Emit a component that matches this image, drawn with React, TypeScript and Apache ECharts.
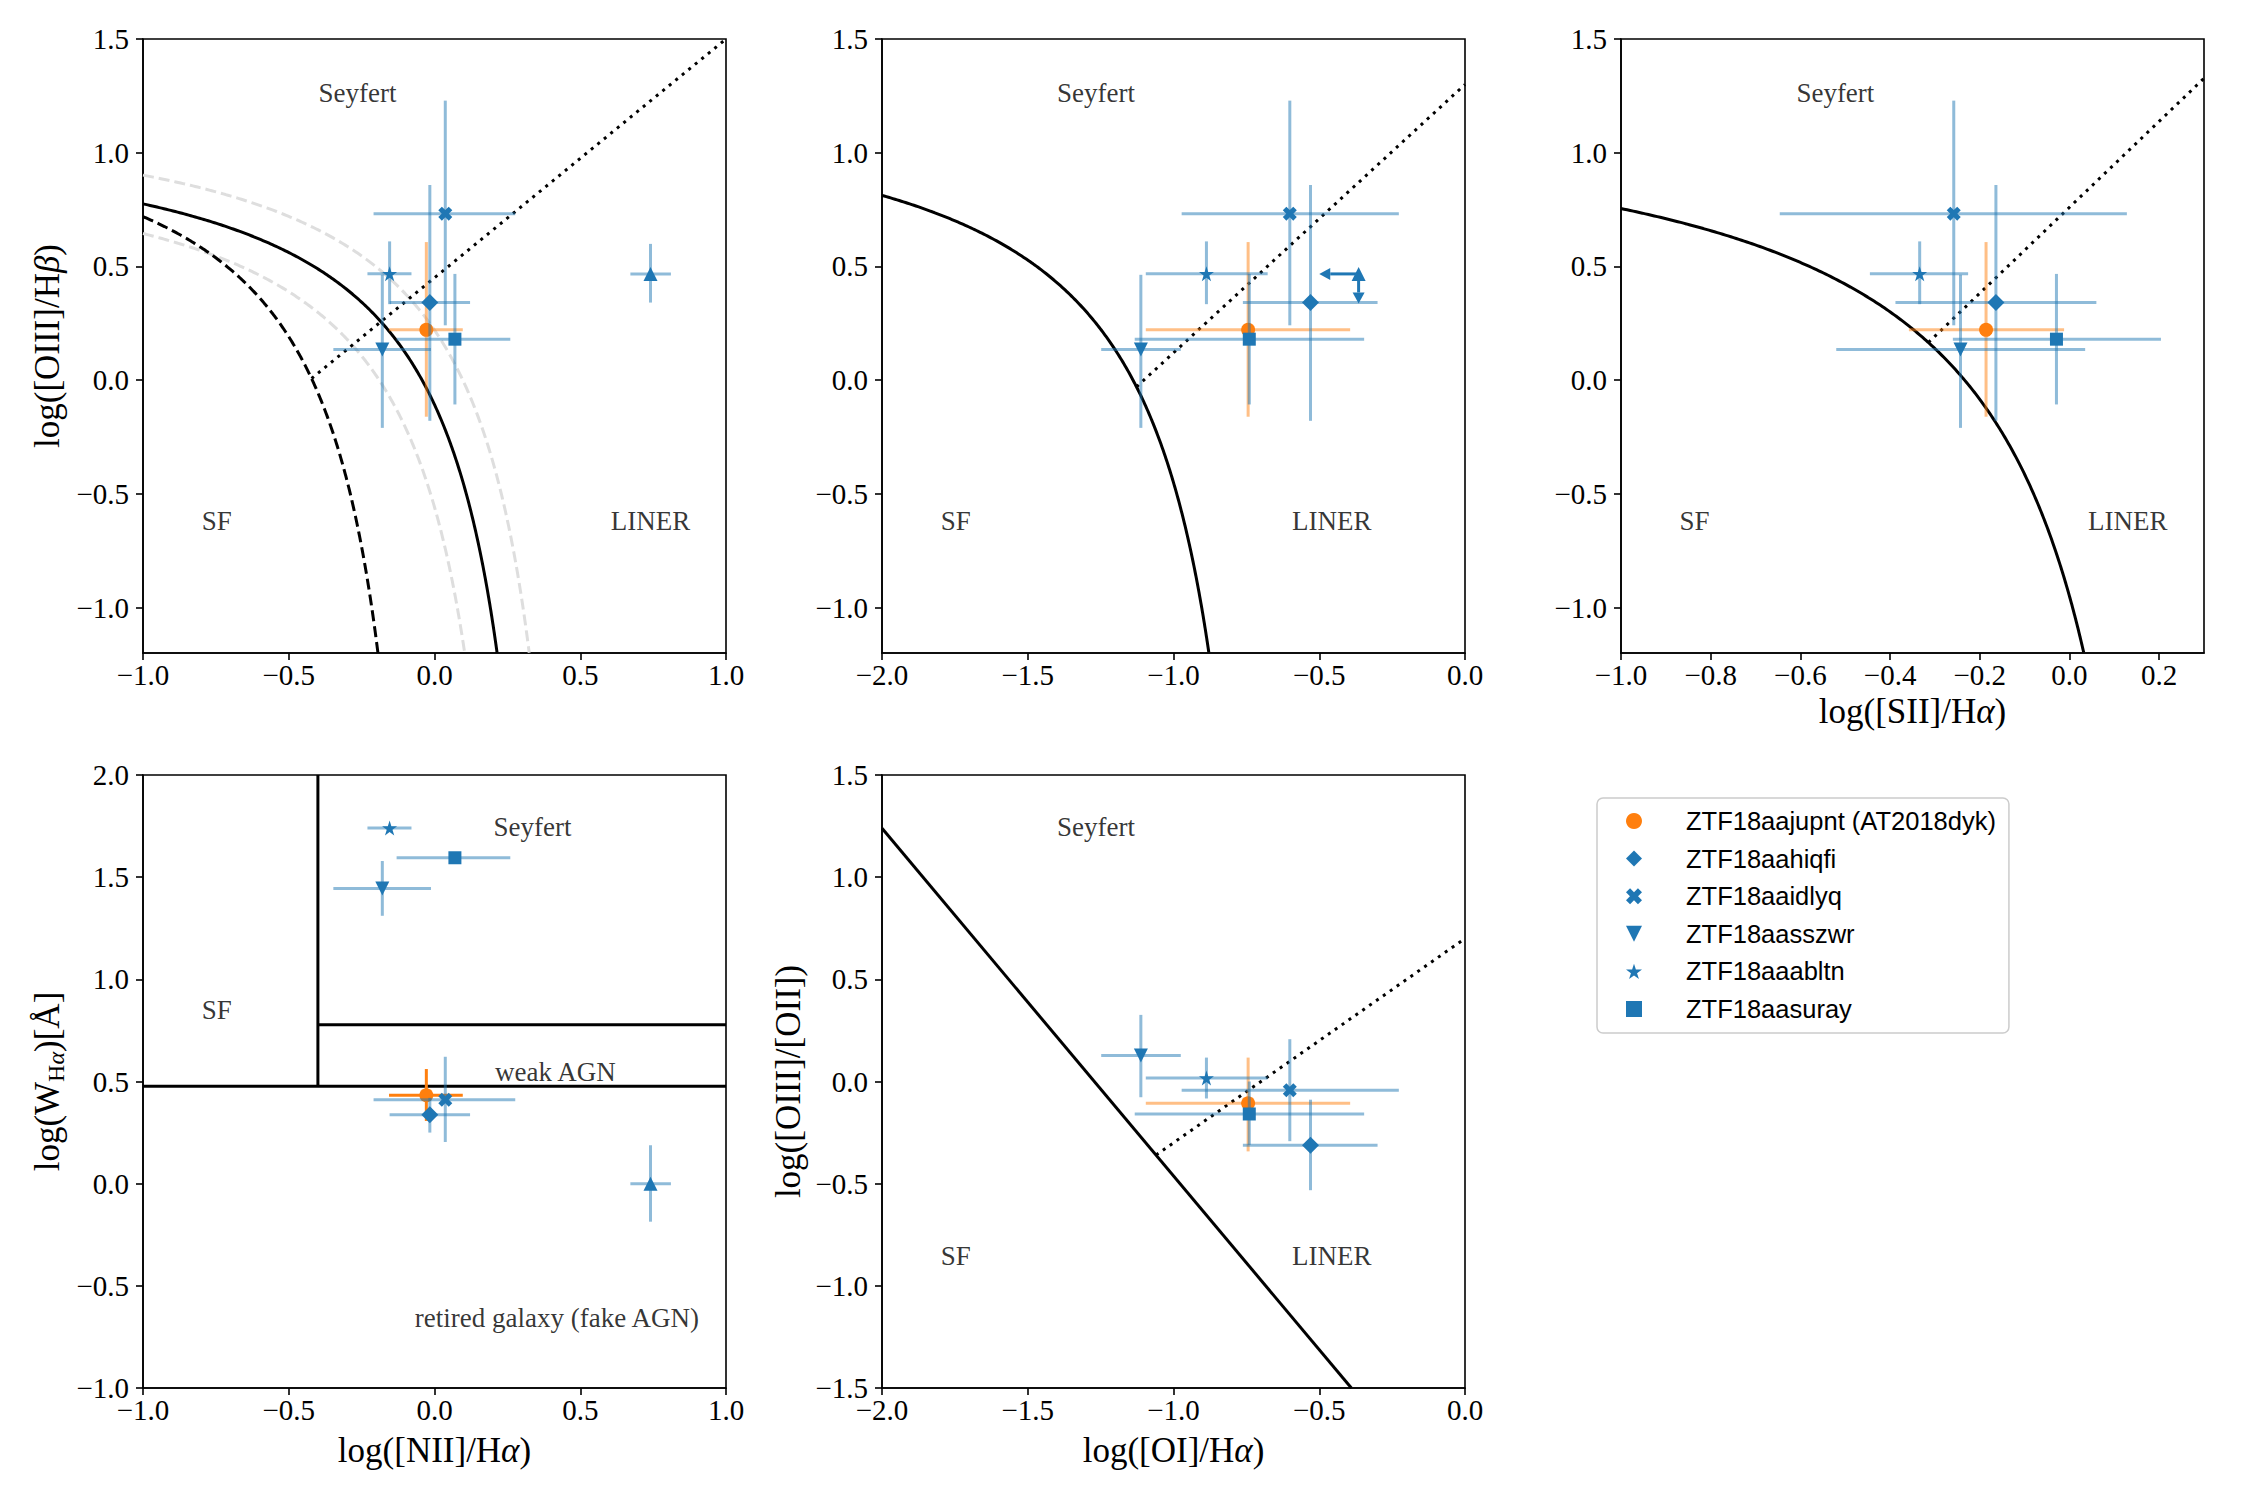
import React, { useEffect, useRef } from 'react';
import * as echarts from 'echarts';

// ---- sources ----
const OBJECTS = [
  'ZTF18aajupnt (AT2018dyk)',
  'ZTF18aahiqfi',
  'ZTF18aaidlyq',
  'ZTF18aasszwr',
  'ZTF18aaabltn',
  'ZTF18aasuray',
];
// index 6 is an extra source (up-triangle) that is not listed in the legend
const EXTRA_NAME = 'extra source';

// ---- line ratios (value, lower end, upper end of the error bar) ----
const NII_HA = [-0.028, -0.016, 0.037, -0.179, -0.154, 0.07, 0.741];
const NII_HA_LO = [-0.156, -0.154, -0.209, -0.347, -0.23, -0.13, 0.672];
const NII_HA_HI = [0.097, 0.122, 0.277, -0.012, -0.079, 0.26, 0.811];

const OIII_HB = [0.221, 0.341, 0.732, 0.135, 0.468, 0.18, 0.467];
const OIII_HB_LO = [-0.161, -0.179, 0.241, -0.21, 0.334, -0.107, 0.341];
const OIII_HB_HI = [0.607, 0.858, 1.229, 0.463, 0.61, 0.467, 0.599];

const OI_HA = [-0.744, -0.53, -0.601, -1.112, -0.887, -0.74];
const OI_HA_LO = [-1.095, -0.762, -0.972, -1.248, -1.095, -1.133];
const OI_HA_HI = [-0.394, -0.3, -0.227, -0.975, -0.677, -0.346];
// upper limits of the extra source in the [OI] diagram: [x, y] and arrow tips [x, y]
const OI_UPPER_LIMIT = [-0.365, 0.467];
const OI_LIMIT_TIPS = [-0.5, 0.337];

const SII_HA = [-0.186, -0.164, -0.258, -0.243, -0.334, -0.029];
const SII_HA_LO = [-0.358, -0.388, -0.646, -0.52, -0.445, -0.26];
const SII_HA_HI = [-0.012, 0.06, 0.128, 0.035, -0.226, 0.204];

const W_HA = [0.433, 0.337, 0.411, 1.445, 1.741, 1.595, 0.0];
const W_HA_LO = [0.307, 0.25, 0.204, 1.311, 1.741, 1.595, -0.186];
const W_HA_HI = [0.561, 0.42, 0.621, 1.579, 1.741, 1.595, 0.188];

const OIII_OII = [-0.107, -0.312, -0.043, 0.127, 0.017, -0.159];
const OIII_OII_LO = [-0.342, -0.532, -0.292, -0.077, -0.083, -0.31];
const OIII_OII_HI = [0.117, -0.089, 0.207, 0.326, 0.117, 0.0];

// ---- demarcation lines: hyperbolae y = a/(x-b)+c, straight lines y = m x + q ----
const KEWLEY01_NII = [0.61, 0.47, 1.19];
const KEWLEY01_NII_SPREAD = 0.1;
const KAUFFMANN03_NII = [0.61, 0.05, 1.3];
const KEWLEY06_NII_LINER = [1.05, 0.45];
const KEWLEY01_OI = [0.73, -0.59, 1.33];
const KEWLEY06_OI_LINER = [1.18, 1.3];
const KEWLEY01_SII = [0.72, 0.32, 1.3];
const KEWLEY06_SII_LINER = [1.89, 0.76];
const KEWLEY06_OIII_OII_SF = [-1.701, -2.163];
const KEWLEY06_OIII_OII_LINER = [1.0, 0.7];
// WHAN diagram boundaries
const WHAN_NII_CUT = -0.4;
const WHAN_W_RETIRED = Math.log10(3);
const WHAN_W_STRONG = Math.log10(6);

// ---- tick positions ----
const TICKS_NII = [-1, -0.5, 0, 0.5, 1];
const TICKS_OI = [-2, -1.5, -1, -0.5, 0];
const TICKS_SII = [-1, -0.8, -0.6, -0.4, -0.2, 0, 0.2];
const TICKS_OIII_HB = [-1, -0.5, 0, 0.5, 1, 1.5];
const TICKS_W = [-1, -0.5, 0, 0.5, 1, 1.5, 2];
const TICKS_OIII_OII = [-1.5, -1, -0.5, 0, 0.5, 1, 1.5];

// ---- region annotations [x, y, text] ----
const LABELS_NII = [[-0.264, 1.262, 'Seyfert'], [-0.747, -0.62, 'SF'], [0.741, -0.62, 'LINER']];
const LABELS_OI = [[-1.266, 1.262, 'Seyfert'], [-1.747, -0.62, 'SF'], [-0.457, -0.62, 'LINER']];
const LABELS_SII = [[-0.522, 1.262, 'Seyfert'], [-0.836, -0.62, 'SF'], [0.13, -0.62, 'LINER']];
const LABELS_WHAN = [
  [0.336, 1.745, 'Seyfert'],
  [-0.747, 0.85, 'SF'],
  [0.415, 0.545, 'weak AGN'],
  [0.42, -0.655, 'retired galaxy (fake AGN)'],
];
const LABELS_OIII_OII = [[-1.266, 1.247, 'Seyfert'], [-1.747, -0.852, 'SF'], [-0.457, -0.852, 'LINER']];

// ---- styling ----
const SERIF = '"Liberation Serif", "Times New Roman", serif';
const SANS = '"Liberation Sans", Arial, sans-serif';
const BLUE = '#1f77b4';
const ORANGE = '#ff7f0e';
const BLUE_BAR = 'rgba(31,119,180,0.5)';
const ORANGE_BAR = 'rgba(255,127,14,0.5)';

const X_PATH = (() => {
  const a = 0.17;
  const L = 0.5;
  const pts = [[a, -L], [a, -a], [L, -a], [L, a], [a, a], [a, L], [-a, L], [-a, a], [-L, a], [-L, -a], [-a, -a], [-a, -L]];
  const r = Math.SQRT1_2;
  const rot = pts.map(([x, y]) => [((x - y) * r).toFixed(4), ((x + y) * r).toFixed(4)]);
  return 'path://M' + rot.map((p) => p.join(',')).join(' L') + ' Z';
})();
const STAR_PATH =
  'path://M0,-1 L0.2245,-0.309 L0.951,-0.309 L0.3633,0.118 L0.5878,0.809 L0,0.382 L-0.5878,0.809 L-0.3633,0.118 L-0.951,-0.309 L-0.2245,-0.309 Z';
const TRI_DOWN = 'path://M-1,-1 L1,-1 L0,1 Z';
const TRI_UP = 'path://M0,-1 L1,1 L-1,1 Z';

const SYMBOLS = ['circle', 'diamond', X_PATH, TRI_DOWN, STAR_PATH, 'rect', TRI_UP];
const SIZES = [14, 17, 14, 14, 15, 13, 14];

const GRIDS = [
  { left: 143, top: 39, width: 583, height: 614 },
  { left: 882, top: 39, width: 583, height: 614 },
  { left: 1621, top: 39, width: 583, height: 614 },
  { left: 143, top: 775, width: 583, height: 613 },
  { left: 882, top: 775, width: 583, height: 613 },
];

const fmtTick = (v: number) => (Math.abs(v) < 1e-9 ? 0 : v).toFixed(1).replace('-', '\u2212');

const NAME_FS = 35;
const SUB_FS = 24;
const nameStyle = {
  fontFamily: SERIF,
  fontSize: NAME_FS,
  color: '#000',
  lineHeight: 40,
  rich: {
    i: { fontFamily: SERIF, fontSize: NAME_FS, fontStyle: 'italic', lineHeight: 40, color: '#000' },
    s: { fontFamily: SERIF, fontSize: SUB_FS, lineHeight: 24, padding: [17, 0, 0, 0], color: '#000' },
    si: { fontFamily: SERIF, fontSize: SUB_FS, fontStyle: 'italic', lineHeight: 24, padding: [17, 0, 0, 0], color: '#000' },
  },
};

function makeAxis(gridIndex: number, min: number, max: number, ticks: number[], isY: boolean, name?: string, nameGap = 40) {
  return {
    type: 'value',
    gridIndex,
    min,
    max,
    axisLine: { show: true, onZero: false, lineStyle: { color: '#000', width: 1.6 } },
    axisTick: { show: true, inside: false, length: 7, lineStyle: { color: '#000', width: 1.6 }, customValues: ticks },
    axisLabel: {
      show: true,
      customValues: ticks,
      formatter: fmtTick,
      color: '#000',
      fontFamily: SERIF,
      fontSize: 29,
      margin: isY ? 14 : 7,
    },
    splitLine: { show: false },
    name: name || '',
    nameLocation: 'middle',
    nameGap,
    nameTextStyle: nameStyle,
  };
}

// curve helpers
function hyperbola([a, b, c]: number[], x0: number, yFloor: number, n = 300) {
  const x1 = b + a / (yFloor - c);
  const pts: number[][] = [];
  for (let k = 0; k <= n; k++) {
    const t = k / n;
    const x = x0 + (x1 - x0) * (1 - (1 - t) * (1 - t));
    pts.push([x, a / (x - b) + c]);
  }
  return pts;
}
function straight([m, q]: number[], x0: number, x1: number) {
  return [[x0, m * x0 + q], [x1, m * x1 + q]];
}
function meet(f: (x: number) => number, g: (x: number) => number, lo: number, hi: number) {
  let a = lo;
  let b = hi;
  const d = (x: number) => f(x) - g(x);
  for (let k = 0; k < 80; k++) {
    const m = (a + b) / 2;
    if (Math.sign(d(m)) === Math.sign(d(a))) a = m;
    else b = m;
  }
  return (a + b) / 2;
}
const hyp = ([a, b, c]: number[]) => (x: number) => a / (x - b) + c;
const lin = ([m, q]: number[]) => (x: number) => m * x + q;

function lineSeries(gi: number, data: number[][], color: string, type: any, width = 3) {
  return {
    type: 'line',
    xAxisIndex: gi,
    yAxisIndex: gi,
    data,
    symbol: 'none',
    showSymbol: false,
    silent: true,
    z: 1,
    clip: true,
    lineStyle: { color, width, type, cap: 'butt' },
  };
}

function errorSeries(gi: number, idx: number, item: number[], solidOrange = false) {
  const color = idx === 0 ? (solidOrange ? ORANGE : ORANGE_BAR) : BLUE_BAR;
  return {
    type: 'custom',
    xAxisIndex: gi,
    yAxisIndex: gi,
    silent: true,
    z: 10 + 2 * idx,
    data: [item],
    renderItem: (params: any, api: any) => {
      const x = api.value(0);
      const y = api.value(1);
      const a = api.coord([api.value(2), y]);
      const b = api.coord([api.value(3), y]);
      const c = api.coord([x, api.value(4)]);
      const d = api.coord([x, api.value(5)]);
      const style = { stroke: color, lineWidth: 3, fill: 'none' };
      return {
        type: 'group',
        children: [
          { type: 'line', shape: { x1: a[0], y1: a[1], x2: b[0], y2: b[1] }, style },
          { type: 'line', shape: { x1: c[0], y1: c[1], x2: d[0], y2: d[1] }, style },
        ],
      };
    },
  };
}

function markerSeries(gi: number, idx: number, x: number, y: number) {
  return {
    type: 'scatter',
    name: idx < OBJECTS.length ? OBJECTS[idx] : EXTRA_NAME,
    xAxisIndex: gi,
    yAxisIndex: gi,
    data: [[x, y]],
    symbol: SYMBOLS[idx],
    symbolSize: SIZES[idx],
    itemStyle: { color: idx === 0 ? ORANGE : BLUE, opacity: 1 },
    silent: true,
    z: 11 + 2 * idx,
  };
}

function pointSeries(
  gi: number,
  xs: number[], xlo: number[], xhi: number[],
  ys: number[], ylo: number[], yhi: number[],
  solidOrange = false,
) {
  const out: any[] = [];
  const n = Math.min(xs.length, ys.length);
  for (let i = 0; i < n; i++) {
    out.push(errorSeries(gi, i, [xs[i], ys[i], xlo[i], xhi[i], ylo[i], yhi[i]], solidOrange));
    out.push(markerSeries(gi, i, xs[i], ys[i]));
  }
  return out;
}

function labelSeries(gi: number, labels: any[]) {
  return {
    type: 'scatter',
    xAxisIndex: gi,
    yAxisIndex: gi,
    silent: true,
    z: 30,
    symbolSize: 1,
    itemStyle: { color: 'rgba(0,0,0,0)' },
    data: labels.map(([x, y, t]) => ({ value: [x, y], name: t })),
    label: {
      show: true,
      position: 'inside',
      formatter: '{b}',
      fontFamily: SERIF,
      fontSize: 27,
      color: '#000',
    },
  };
}

function limitArrows(gi: number) {
  return {
    type: 'custom',
    xAxisIndex: gi,
    yAxisIndex: gi,
    silent: true,
    z: 24,
    data: [[OI_UPPER_LIMIT[0], OI_UPPER_LIMIT[1], OI_LIMIT_TIPS[0], OI_LIMIT_TIPS[1]]],
    renderItem: (params: any, api: any) => {
      const p = api.coord([api.value(0), api.value(1)]);
      const l = api.coord([api.value(2), api.value(1)]);
      const d = api.coord([api.value(0), api.value(3)]);
      const len = 11;
      const hw = 6;
      const style = { stroke: BLUE, lineWidth: 3, fill: 'none' };
      return {
        type: 'group',
        children: [
          { type: 'line', shape: { x1: p[0], y1: p[1], x2: l[0] + len, y2: l[1] }, style },
          { type: 'line', shape: { x1: p[0], y1: p[1], x2: d[0], y2: d[1] - len }, style },
          { type: 'polygon', shape: { points: [[l[0], l[1]], [l[0] + len, l[1] - hw], [l[0] + len, l[1] + hw]] }, style: { fill: BLUE } },
          { type: 'polygon', shape: { points: [[d[0], d[1]], [d[0] - hw, d[1] - len], [d[0] + hw, d[1] - len]] }, style: { fill: BLUE } },
        ],
      };
    },
  };
}

function buildOption() {
  const series: any[] = [];

  // --- [NII] BPT ---
  const kauffX = meet(hyp(KAUFFMANN03_NII), lin(KEWLEY06_NII_LINER), -0.9, 0.0);
  const [ka, kb, kc] = KEWLEY01_NII;
  const s = KEWLEY01_NII_SPREAD;
  series.push(lineSeries(0, hyperbola([ka, kb + s, kc + s], -1, -1.2), '#dedede', [11, 5]));
  series.push(lineSeries(0, hyperbola([ka, kb - s, kc - s], -1, -1.2), '#dedede', [11, 5]));
  series.push(lineSeries(0, hyperbola(KEWLEY01_NII, -1, -1.2), '#000', 'solid'));
  series.push(lineSeries(0, hyperbola(KAUFFMANN03_NII, -1, -1.2), '#000', [11, 5]));
  series.push(lineSeries(0, straight(KEWLEY06_NII_LINER, kauffX, 1.0), '#000', [3, 5.4]));
  series.push(...pointSeries(0, NII_HA, NII_HA_LO, NII_HA_HI, OIII_HB, OIII_HB_LO, OIII_HB_HI));
  series.push(labelSeries(0, LABELS_NII));

  // --- [OI] BPT ---
  const oiX = meet(hyp(KEWLEY01_OI), lin(KEWLEY06_OI_LINER), -1.5, -0.8);
  series.push(lineSeries(1, hyperbola(KEWLEY01_OI, -2, -1.2), '#000', 'solid'));
  series.push(lineSeries(1, straight(KEWLEY06_OI_LINER, oiX, 0), '#000', [3, 5.4]));
  series.push(...pointSeries(1, OI_HA, OI_HA_LO, OI_HA_HI, OIII_HB, OIII_HB_LO, OIII_HB_HI));
  series.push(limitArrows(1));
  series.push(markerSeries(1, 6, OI_UPPER_LIMIT[0], OI_UPPER_LIMIT[1]));
  series.push(labelSeries(1, LABELS_OI));

  // --- [SII] BPT ---
  const siiX = meet(hyp(KEWLEY01_SII), lin(KEWLEY06_SII_LINER), -0.8, 0.1);
  series.push(lineSeries(2, hyperbola(KEWLEY01_SII, -1, -1.2), '#000', 'solid'));
  series.push(lineSeries(2, straight(KEWLEY06_SII_LINER, siiX, 0.3), '#000', [3, 5.4]));
  series.push(...pointSeries(2, SII_HA, SII_HA_LO, SII_HA_HI, OIII_HB, OIII_HB_LO, OIII_HB_HI));
  series.push(labelSeries(2, LABELS_SII));

  // --- WHAN ---
  series.push(lineSeries(3, [[WHAN_NII_CUT, WHAN_W_RETIRED], [WHAN_NII_CUT, 2]], '#000', 'solid'));
  series.push(lineSeries(3, [[-1, WHAN_W_RETIRED], [1, WHAN_W_RETIRED]], '#000', 'solid'));
  series.push(lineSeries(3, [[WHAN_NII_CUT, WHAN_W_STRONG], [1, WHAN_W_STRONG]], '#000', 'solid'));
  series.push(...pointSeries(3, NII_HA, NII_HA_LO, NII_HA_HI, W_HA, W_HA_LO, W_HA_HI, true));
  series.push(labelSeries(3, LABELS_WHAN));

  // --- [OIII]/[OII] vs [OI]/Ha ---
  const [sm, sq] = KEWLEY06_OIII_OII_SF;
  const oiiX = meet(lin(KEWLEY06_OIII_OII_SF), lin(KEWLEY06_OIII_OII_LINER), -1.5, -0.5);
  series.push(lineSeries(4, straight(KEWLEY06_OIII_OII_SF, -2, (-1.5 - sq) / sm), '#000', 'solid'));
  series.push(lineSeries(4, straight(KEWLEY06_OIII_OII_LINER, oiiX, 0), '#000', [3, 5.4]));
  series.push(...pointSeries(4, OI_HA, OI_HA_LO, OI_HA_HI, OIII_OII, OIII_OII_LO, OIII_OII_HI));
  series.push(labelSeries(4, LABELS_OIII_OII));

  return {
    animation: false,
    backgroundColor: '#fff',
    grid: GRIDS.map((g) => ({
      ...g,
      show: true,
      borderColor: '#000',
      borderWidth: 1.6,
      backgroundColor: 'transparent',
      containLabel: false,
      outerBoundsMode: 'none',
    })),
    xAxis: [
      makeAxis(0, -1, 1, TICKS_NII, false),
      makeAxis(1, -2, 0, TICKS_OI, false),
      makeAxis(2, -1, 0.3, TICKS_SII, false, 'log([SII]/H{i|α})', 38),
      makeAxis(3, -1, 1, TICKS_NII, false, 'log([NII]/H{i|α})', 42),
      makeAxis(4, -2, 0, TICKS_OI, false, 'log([OI]/H{i|α})', 42),
    ],
    yAxis: [
      makeAxis(0, -1.2, 1.5, TICKS_OIII_HB, true, 'log([OIII]/H{i|β})', 76),
      makeAxis(1, -1.2, 1.5, TICKS_OIII_HB, true),
      makeAxis(2, -1.2, 1.5, TICKS_OIII_HB, true),
      makeAxis(3, -1, 2, TICKS_W, true, 'log(W{s|H}{si|α})[Å]', 76),
      makeAxis(4, -1.5, 1.5, TICKS_OIII_OII, true, 'log([OIII]/[OII])', 74),
    ],
    legend: {
      orient: 'vertical',
      left: 1597,
      top: 798,
      data: OBJECTS,
      selectedMode: false,
      itemWidth: 16,
      itemHeight: 16,
      itemGap: 11.6,
      padding: [10, 13, 11, 29],
      textStyle: { fontFamily: SANS, fontSize: 25.5, color: '#000', lineHeight: 26, padding: [0, 0, 0, 39] },
      borderColor: '#cccccc',
      borderWidth: 1.5,
      borderRadius: 6,
      backgroundColor: '#fff',
    },
    series,
  };
}

export default function App() {
  const ref = useRef<HTMLDivElement>(null);
  useEffect(() => {
    if (!ref.current) return;
    const chart = echarts.init(ref.current, undefined, { renderer: 'svg' });
    chart.setOption(buildOption() as any);
    return () => chart.dispose();
  }, []);
  return (
    <div
      ref={ref}
      style={{ position: 'absolute', left: 0, top: 0, width: 2250, height: 1500, background: '#fff' }}
    />
  );
}
